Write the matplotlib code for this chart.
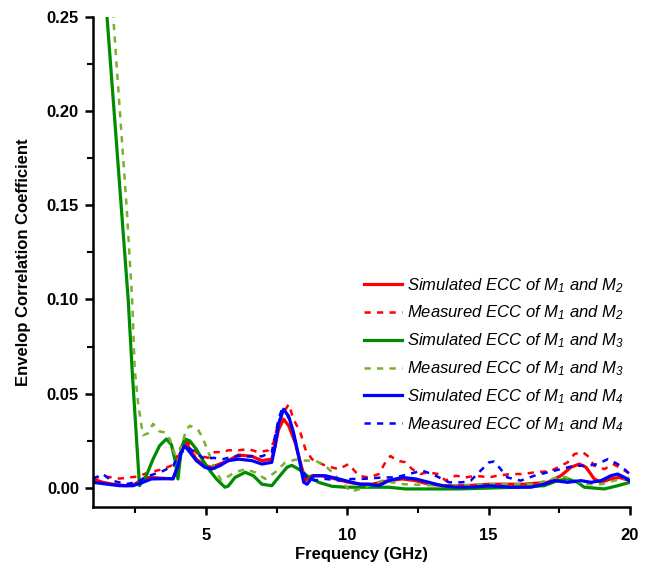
#!/usr/bin/env python3
import matplotlib
matplotlib.use('Agg')
import matplotlib.pyplot as plt
from matplotlib.ticker import MultipleLocator

# Simulated ECC of M1 and M2
f_s12 = [1.0, 1.35, 1.71, 2.18, 2.48, 2.77, 3.0, 3.84, 4.01, 4.13, 4.25, 4.43, 4.66, 4.96, 5.2,
         5.49, 5.79, 6.15, 6.63, 6.98, 7.33, 7.45, 7.57, 7.75, 7.93, 8.16, 8.34, 8.52, 8.75, 9.11,
         9.58, 10.05, 10.47, 10.88, 11.47, 11.95, 12.42, 12.89, 13.48, 14.19, 15.02, 16.26, 17.09,
         17.56, 17.92, 18.21, 18.45, 18.74, 18.98, 19.33, 19.63, 20.0]
e_s12 = [0.0048, 0.003, 0.002, 0.0012, 0.002, 0.0048, 0.0056, 0.0048, 0.0118, 0.0206, 0.0256,
         0.0206, 0.0153, 0.0118, 0.011, 0.0127, 0.0145, 0.0175, 0.0168, 0.0145, 0.0153, 0.0224,
         0.031, 0.0365, 0.033, 0.024, 0.0136, 0.004, 0.0065, 0.0065, 0.0048, 0.003, 0.002, 0.002,
         0.0039, 0.0048, 0.0039, 0.002, 0.0012, 0.0012, 0.002, 0.002, 0.003, 0.0065, 0.011, 0.0127,
         0.011, 0.0048, 0.003, 0.0048, 0.0056, 0.0039]

# Measured ECC of M1 and M2
f_m12 = [1.0, 1.47, 1.95, 2.54, 3.0, 3.48, 3.9, 4.07, 4.31, 4.55, 4.78, 5.08, 5.31, 5.61, 5.79,
         6.15, 6.51, 6.86, 7.22, 7.39, 7.57, 7.75, 7.93, 8.1, 8.34, 8.52, 8.75, 9.23, 9.7, 10.05,
         10.41, 10.76, 11.12, 11.35, 11.53, 11.77, 12.06, 12.3, 12.59, 12.83, 13.24, 13.48, 13.84,
         14.19, 14.55, 15.02, 15.3, 15.79, 16.26, 16.62, 17.2, 17.8, 18.04, 18.33, 18.51, 18.74,
         19.1, 19.4, 19.63, 20.0]
e_m12 = [0.0056, 0.006, 0.005, 0.006, 0.0083, 0.010, 0.0127, 0.0206, 0.026, 0.0206, 0.017, 0.016,
         0.019, 0.019, 0.020, 0.020, 0.0206, 0.019, 0.020, 0.024, 0.035, 0.040, 0.0444, 0.0365,
         0.0295, 0.0206, 0.0153, 0.0118, 0.010, 0.0127, 0.0065, 0.0056, 0.0074, 0.0136, 0.017,
         0.0145, 0.0136, 0.010, 0.0074, 0.0083, 0.0074, 0.0039, 0.0065, 0.0056, 0.0065, 0.0056,
         0.0065, 0.0074, 0.0074, 0.0083, 0.009, 0.0136, 0.018, 0.019, 0.017, 0.0118, 0.010, 0.0127,
         0.011, 0.0075]

# Simulated ECC of M1 and M3
f_s13 = [1.0, 1.5, 2.25, 2.4, 2.65, 2.89, 3.13, 3.36, 3.6, 3.78, 3.9, 4.01, 4.13, 4.25, 4.43,
         4.66, 4.9, 5.14, 5.37, 5.67, 5.79, 6.03, 6.39, 6.68, 6.98, 7.33, 7.57, 7.87, 8.04, 8.28,
         8.58, 8.99, 9.46, 9.94, 10.47, 11.47, 12.06, 14.0, 16.0, 16.97, 17.44, 17.8, 18.15, 18.39,
         19.1, 19.57, 20.0]
e_s13 = [0.35, 0.25, 0.10, 0.06, 0.0012, 0.0065, 0.0153, 0.0224, 0.026, 0.023, 0.0153, 0.0048,
         0.0206, 0.026, 0.025, 0.0206, 0.0145, 0.0092, 0.0048, 0.0004, 0.001, 0.0056, 0.0083,
         0.0065, 0.002, 0.0012, 0.0056, 0.011, 0.012, 0.010, 0.0065, 0.003, 0.0009, 0.0004, 0.0004,
         0.0004, -0.0005, -0.0005, 0.0004, 0.0012, 0.0039, 0.0048, 0.003, 0.0004, -0.0005, 0.0012,
         0.003]

# Measured ECC of M1 and M3
f_m13 = [1.0, 1.72, 2.19, 2.39, 2.48, 2.6, 2.77, 2.95, 3.13, 3.36, 3.54, 3.72, 3.9, 4.0, 4.13,
         4.31, 4.43, 4.72, 4.9, 5.14, 5.37, 5.55, 5.73, 6.03, 6.39, 6.74, 7.1, 7.45, 7.81, 8.16,
         8.52, 8.87, 9.23, 9.58, 9.94, 10.11, 10.47, 11.24, 12.0, 13.5, 15.0, 16.5, 17.09, 17.56,
         17.92, 18.39, 19.0, 19.45, 20.0]
e_m13 = [0.35, 0.25, 0.15, 0.10, 0.063, 0.045, 0.028, 0.029, 0.034, 0.030, 0.0295, 0.026, 0.018,
         0.0136, 0.0224, 0.031, 0.033, 0.031, 0.026, 0.017, 0.0083, 0.004, 0.0056, 0.0083, 0.010,
         0.0083, 0.0048, 0.0083, 0.0136, 0.015, 0.0145, 0.0145, 0.0118, 0.0065, 0.0012, -0.002,
         -0.0005, 0.0039, 0.002, 0.0012, 0.002, 0.002, 0.0039, 0.0065, 0.0048, 0.002, 0.002, 0.0039,
         0.0056]

# Simulated ECC of M1 and M4
f_s14 = [1.0, 1.47, 1.95, 2.42, 2.77, 3.07, 3.84, 4.01, 4.13, 4.25, 4.43, 4.66, 4.96, 5.2, 5.49,
         5.79, 6.15, 6.63, 6.98, 7.33, 7.45, 7.57, 7.75, 7.93, 8.1, 8.28, 8.46, 8.58, 8.81, 9.23,
         9.7, 10.17, 10.47, 10.76, 11.12, 11.47, 11.95, 12.42, 12.89, 13.36, 13.84, 14.43, 15.02,
         15.79, 16.5, 16.97, 17.33, 17.8, 18.27, 18.63, 18.98, 19.33, 19.57, 19.81, 20.0]
e_s14 = [0.003, 0.0021, 0.0012, 0.0012, 0.003, 0.0048, 0.005, 0.0118, 0.019, 0.0224, 0.019,
         0.0145, 0.011, 0.010, 0.0118, 0.0145, 0.0153, 0.0145, 0.0127, 0.0136, 0.0224, 0.034,
         0.0418, 0.038, 0.0295, 0.017, 0.003, 0.002, 0.0065, 0.0065, 0.0048, 0.003, 0.002, 0.002,
         0.0012, 0.0039, 0.0056, 0.0048, 0.003, 0.0012, 0.0004, 0.0004, 0.0012, 0.0004, 0.0004,
         0.002, 0.0039, 0.003, 0.0039, 0.003, 0.0039, 0.0065, 0.0074, 0.0056, 0.0039]

# Measured ECC of M1 and M4
f_m14 = [1.0, 1.35, 1.65, 2.18, 2.54, 3.0, 3.48, 3.84, 4.07, 4.37, 4.6, 4.96, 5.26, 5.61, 5.79,
         6.15, 6.51, 6.98, 7.33, 7.45, 7.57, 7.69, 7.87, 8.04, 8.22, 8.4, 8.58, 8.87, 9.23, 9.7,
         10.17, 10.47, 10.76, 11.24, 11.71, 12.18, 12.65, 13.0, 13.36, 13.6, 14.07, 14.37, 14.66,
         15.02, 15.2, 15.43, 15.67, 16.14, 16.62, 17.09, 17.56, 18.04, 18.51, 18.86, 19.22, 19.57,
         19.81, 20.0]
e_m14 = [0.0048, 0.0074, 0.004, 0.0021, 0.003, 0.0065, 0.009, 0.0118, 0.018, 0.0215, 0.019,
         0.0153, 0.016, 0.0153, 0.016, 0.017, 0.0168, 0.0168, 0.019, 0.0277, 0.0365, 0.0418, 0.039,
         0.032, 0.0206, 0.010, 0.0048, 0.004, 0.0048, 0.004, 0.0048, 0.0048, 0.005, 0.0056, 0.0056,
         0.0074, 0.0092, 0.0074, 0.0048, 0.003, 0.003, 0.0039, 0.0083, 0.0136, 0.014, 0.010, 0.0056,
         0.0039, 0.0065, 0.0083, 0.010, 0.0118, 0.0118, 0.0127, 0.0153, 0.0127, 0.010, 0.0074]

labels = [r'Simulated ECC of M$_1$ and M$_2$', r'Measured ECC of M$_1$ and M$_2$',
          r'Simulated ECC of M$_1$ and M$_3$', r'Measured ECC of M$_1$ and M$_3$',
          r'Simulated ECC of M$_1$ and M$_4$', r'Measured ECC of M$_1$ and M$_4$']

plt.rcParams['font.family'] = ['Liberation Sans', 'DejaVu Sans']
plt.rcParams['mathtext.fontset'] = 'custom'
plt.rcParams['mathtext.rm'] = 'Liberation Sans:italic'
plt.rcParams['mathtext.it'] = 'Liberation Sans:italic'

fig = plt.figure(figsize=(6.54, 5.74), dpi=100)
ax = fig.add_axes([0.142, 0.117, 0.821, 0.854])

dash = (0, (2.5, 2.5))
ax.plot(f_s12, e_s12, color='#ff0000', lw=2.3, label=labels[0])
ax.plot(f_m12, e_m12, color='#ff0000', lw=1.8, linestyle=dash, label=labels[1])
ax.plot(f_s13, e_s13, color='#008c00', lw=2.3, label=labels[2])
ax.plot(f_m13, e_m13, color='#7ab030', lw=1.8, linestyle=dash, label=labels[3])
ax.plot(f_s14, e_s14, color='#0000ff', lw=2.3, label=labels[4])
ax.plot(f_m14, e_m14, color='#0000ff', lw=1.8, linestyle=dash, label=labels[5])

ax.set_xlim(1, 20)
ax.set_ylim(-0.01, 0.25)
ax.xaxis.set_minor_locator(MultipleLocator(2.5))
ax.yaxis.set_minor_locator(MultipleLocator(0.025))
ax.set_xticks([5, 10, 15, 20])
ax.set_yticks([0, 0.05, 0.10, 0.15, 0.20, 0.25])
ax.set_yticklabels(['0.00', '0.05', '0.10', '0.15', '0.20', '0.25'])

for s in ['top', 'right']:
    ax.spines[s].set_visible(False)
for s in ['left', 'bottom']:
    ax.spines[s].set_linewidth(1.8)
ax.tick_params(which='major', direction='out', length=6, width=1.8, labelsize=12)
ax.tick_params(which='minor', direction='out', length=4, width=1.5)
ax.tick_params(axis='x', which='major', pad=9)
ax.tick_params(axis='y', which='major', pad=4)
for t in ax.get_xticklabels() + ax.get_yticklabels():
    t.set_fontweight('bold')

ax.set_xlabel('Frequency (GHz)', fontsize=12, fontweight='bold', labelpad=3)
ax.set_ylabel('Envelop Correlation Coefficient', fontsize=12, fontweight='bold', labelpad=11)

leg = ax.legend(loc='center right', bbox_to_anchor=(1.018, 0.31), frameon=False,
                fontsize=12, handlelength=2.3, labelspacing=0.55, handletextpad=0.3)
for t in leg.get_texts():
    t.set_fontstyle('italic')

plt.savefig('out.png', dpi=100)
